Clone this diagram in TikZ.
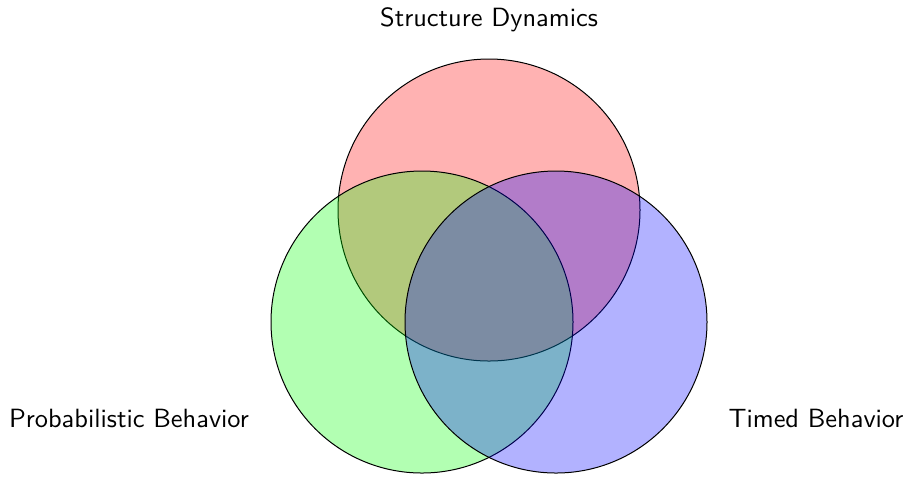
\documentclass[tikz,border=0pt]{standalone}
\begin{document}
\begin{tikzpicture}[x=0.4pt,y=-0.4pt,
  setcircle/.style={circle, draw=black, line width=0.4pt, fill opacity=0.3, minimum size=120.8pt, inner sep=0pt},
  setlabel/.style={font=\sffamily\fontsize{10.55}{12.6}\selectfont, inner sep=0pt}]
  \useasboundingbox (0,0) rectangle (906,476);
  % the three sets
  \node[setcircle, fill=red]   (sd) at (489,210) {};
  \node[setcircle, fill=green] (pb) at (422,322) {};
  \node[setcircle, fill=blue]  (tb) at (556,322) {};
  % set names
  \node[setlabel] (sdlabel) at (489,20) {Structure Dynamics};
  \node[setlabel] (pblabel) at (129,418) {Probabilistic Behavior};
  \node[setlabel] (tblabel) at (816,418) {Timed Behavior};
\end{tikzpicture}
\end{document}
